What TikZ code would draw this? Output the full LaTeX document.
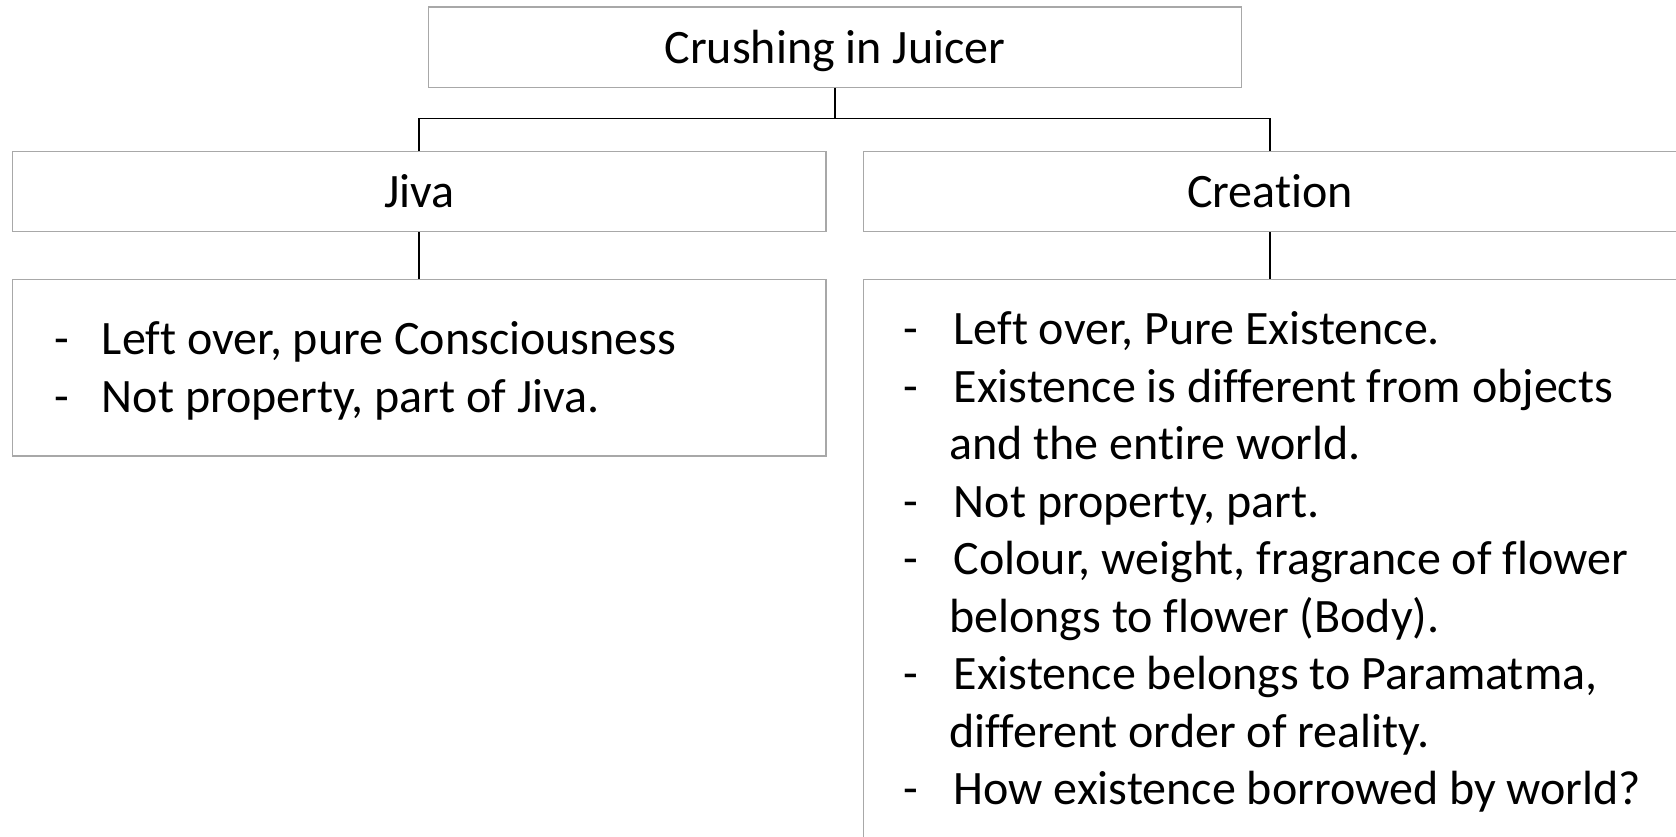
\documentclass[tikz,border=0pt]{standalone}
\usepackage{fontspec}
\setmainfont[Ligatures=NoCommon]{Carlito}
\definecolor{boxgrey}{RGB}{168,168,168}
\begin{document}
\begin{tikzpicture}[x=1pt,y=-1pt,
  every node/.style={font=\fontsize{48}{57.5}\selectfont},
  box/.style={draw=boxgrey, line width=1.3pt, fill=white, inner sep=0pt,
    minimum width=813.4pt, minimum height=80.2pt, anchor=north west},
  heading/.style={box, text height=36pt, text depth=3.4pt},
  notes/.style={box, minimum height=#1},
  bullets/.style={inner sep=0pt},
  link/.style={draw=black, line width=1.4pt}]

% page frame
\clip (0,0) rectangle (1676,836);
\fill[white] (0,0) rectangle (1676,836);

% heading boxes
\node[heading] (top) at (427.6,6.4) {Crushing in Juicer};
\node[heading] (jiva) at (11.8,150.7) {Jiva};
\node[heading] (creation) at (862.6,150.7) {Creation};

% detail boxes
\node[notes=176.4pt] (jivanotes) at (11.8,279) {};
\node[notes=720pt] (creationnotes) at (862.6,279) {};

\node[bullets, anchor=west] (jivatext) at ([xshift=42pt, yshift=-4pt]jivanotes.west)
  {\begin{tabular}{@{}p{48pt}@{}l@{}}
   - & Left over, pure Consciousness\\
   - & Not property, part of Jiva.
   \end{tabular}};

\node[bullets, anchor=north west] (creationtext)
  at ([xshift=41pt, yshift=-25.5pt]creationnotes.north west)
  {\begin{tabular}{@{}p{50pt}@{}l@{}}
   - & Left over, Pure Existence.\\
   - & Existence is different from objects\\
     & \hspace{-4.5pt}and the entire world.\\
   - & Not property, part.\\
   - & Colour, weight, fragrance of flower\\
     & \hspace{-4.5pt}belongs to flower (Body).\\
   - & Existence belongs to Paramatma,\\
     & \hspace{-4.5pt}different order of reality.\\
   - & How existence borrowed by world?
   \end{tabular}};

% connectors
\coordinate (fork) at (top.south |- 0,118.6);
\draw[link] (top.south) -- (fork);
\draw[link] (jiva.north) |- (fork) -| (creation.north);
\draw[link] (jiva.south) -- (jivanotes.north);
\draw[link] (creation.south) -- (creationnotes.north);
\end{tikzpicture}
\end{document}
